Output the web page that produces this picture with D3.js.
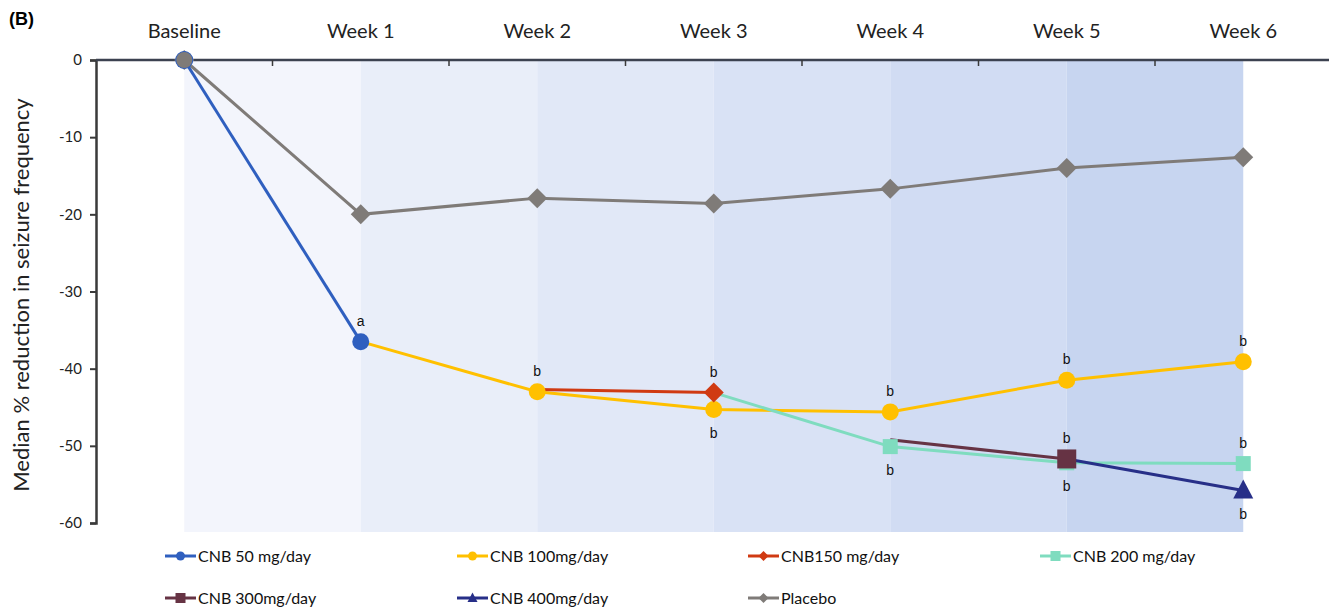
<!DOCTYPE html>
<html>
<head>
<meta charset="utf-8">
<script src="https://cdn.jsdelivr.net/npm/d3@7"></script>
<style>
  body { margin: 0; background: #fff; }
  svg text { font-family: Lato, "Open Sans", sans-serif; }
</style>
</head>
<body>
<div id="chart"></div>
<script>
// data
var weeks = ["Baseline", "Week 1", "Week 2", "Week 3", "Week 4", "Week 5", "Week 6"];
var yTicks = [0, -10, -20, -30, -40, -50, -60];

var placebo = [0, -20.0, -17.9, -18.6, -16.7, -14.0, -12.6];
var cnb50   = [0, -36.5, null, null, null, null, null];
var cnb100  = [null, -36.5, -43.0, -45.3, -45.6, -41.5, -39.1];
var cnb150  = [null, null, -42.7, -43.1, null, null, null];
var cnb200  = [null, null, null, -43.1, -50.1, -52.2, -52.3];
var cnb300  = [null, null, null, null, -49.2, -51.7, null];
var cnb400  = [null, null, null, null, null, -51.7, -55.8];

var seriesNames = ["Placebo", "CNB 50 mg/day", "CNB 100mg/day", "CNB150 mg/day", "CNB 200 mg/day", "CNB 300mg/day", "CNB 400mg/day"];
var seriesColors = ["#7f7b78", "#2f5fbf", "#ffc000", "#d03a12", "#7fdcbf", "#663344", "#272f88"];
var seriesShapes = ["diamond", "circle", "circle", "diamond", "square", "square", "triangle"];
var seriesValues = [placebo, cnb50, cnb100, cnb150, cnb200, cnb300, cnb400];

// significance letters (series index, week index, letter, above the point?)
var sigSeries = [1, 2, 3, 2, 2, 4, 2, 5, 4, 2, 4, 6];
var sigWeek   = [1, 2, 3, 3, 4, 4, 5, 5, 5, 6, 6, 6];
var sigText   = ["a", "b", "b", "b", "b", "b", "b", "b", "b", "b", "b", "b"];
var sigAbove  = [1, 1, 1, 0, 1, 0, 1, 1, 0, 1, 1, 0];

var legendOrder = [1, 2, 3, 4, 5, 6, 0];
var bandColors = ["#f3f5fc", "#e9eef9", "#e1e8f7", "#d9e2f5", "#d1dcf3", "#c7d5f0"];

// layout
var W = 1329, H = 609;
var margin = { left: 96, top: 60 };
var step = 176.5;

var svg = d3.select("#chart").append("svg")
    .attr("width", W)
    .attr("height", H);

var x = d3.scaleBand()
    .domain(weeks)
    .range([margin.left, margin.left + step * weeks.length])
    .padding(0);
var cx = function(i) { return x(weeks[i]) + x.bandwidth() / 2; };

var y = d3.scaleLinear()
    .domain([0, -60])
    .range([margin.top, 523]);

// shaded bands between week centres
weeks.slice(1).forEach(function(w, i) {
    svg.append("rect")
        .attr("x", cx(i))
        .attr("y", y(0))
        .attr("width", cx(i + 1) - cx(i))
        .attr("height", 532 - y(0))
        .attr("fill", bandColors[i]);
});

// y axis
var yAxis = svg.append("g")
    .attr("transform", "translate(" + margin.left + ",0)")
    .call(d3.axisLeft(y).tickValues(yTicks).tickSize(6).tickPadding(8).tickFormat(d3.format("d")));
yAxis.select(".domain").attr("stroke", "#3a3a3a").attr("stroke-width", 2.5);
yAxis.selectAll(".tick line").attr("stroke", "#3a3a3a").attr("stroke-width", 2);
yAxis.selectAll(".tick text")
    .attr("font-size", "15px")
    .attr("fill", "#222")
    .text(function(d) { return d === 0 ? "0" : "-" + Math.abs(d); });

// top axis line
svg.append("line")
    .attr("x1", margin.left).attr("x2", W)
    .attr("y1", y(0)).attr("y2", y(0))
    .attr("stroke", "#3c4250").attr("stroke-width", 2.5);

// tick marks at band boundaries (pointing down)
weeks.slice(1).forEach(function(w) {
    svg.append("line")
        .attr("x1", x(w)).attr("x2", x(w))
        .attr("y1", y(0)).attr("y2", y(0) + 6)
        .attr("stroke", "#3a3a3a").attr("stroke-width", 1.5);
});

// category labels
svg.selectAll(".cat")
    .data(weeks)
    .enter().append("text")
    .attr("class", "cat")
    .attr("x", function(d, i) { return cx(i); })
    .attr("y", 38)
    .attr("text-anchor", "middle")
    .attr("font-size", "20px")
    .attr("fill", "#222")
    .text(function(d) { return d; });

// y title
svg.append("text")
    .attr("transform", "translate(29," + 295 + ") rotate(-90)")
    .attr("text-anchor", "middle")
    .attr("font-size", "22px")
    .attr("fill", "#222")
    .text("Median % reduction in seizure frequency");

// panel label
svg.append("text")
    .attr("x", 9).attr("y", 25)
    .attr("font-size", "18px")
    .attr("font-weight", "bold")
    .style("font-family", "'Liberation Sans', Arial, sans-serif")
    .text("(B)");

// marker
function drawMarker(g, shape, color, px, py, big) {
    if (shape === "circle") {
        g.append("circle").attr("cx", px).attr("cy", py).attr("r", 8.5).attr("fill", color);
    } else if (shape === "diamond") {
        var s = big || 10;
        g.append("path")
            .attr("d", "M" + px + "," + (py - s) + "L" + (px + s) + "," + py + "L" + px + "," + (py + s) + "L" + (px - s) + "," + py + "Z")
            .attr("fill", color);
    } else if (shape === "square") {
        var h = big || 7.5;
        g.append("rect").attr("x", px - h).attr("y", py - h).attr("width", 2 * h).attr("height", 2 * h).attr("fill", color);
    } else if (shape === "triangle") {
        var t = big || 10;
        g.append("path")
            .attr("d", "M" + px + "," + (py - t * 1.1) + "L" + (px + t) + "," + (py + t * 0.8) + "L" + (px - t) + "," + (py + t * 0.8) + "Z")
            .attr("fill", color);
    }
}

var line = d3.line()
    .defined(function(d) { return d != null; })
    .x(function(d, i) { return cx(i); })
    .y(function(d) { return y(d); });

// lines
seriesValues.forEach(function(vals, s) {
    svg.append("path")
        .attr("d", line(vals))
        .attr("fill", "none")
        .attr("stroke", seriesColors[s])
        .attr("stroke-width", 3);
});

// markers (first point of a later-dose series is the hand-over, no marker)
var markers = svg.append("g");
var sizes = [10, null, null, 10, 7.5, 9.5, 10];
seriesValues.forEach(function(vals, s) {
    var first = vals.findIndex(function(v) { return v != null; });
    vals.forEach(function(v, i) {
        if (v == null) return;
        if (i === first && first > 0) return;
        drawMarker(markers, seriesShapes[s], seriesColors[s], cx(i), y(v), sizes[s]);
    });
});
// baseline point: blue behind, grey over
markers.append("circle").attr("cx", cx(0)).attr("cy", y(0)).attr("r", 9).attr("fill", seriesColors[1]);
markers.append("circle").attr("cx", cx(0)).attr("cy", y(0)).attr("r", 8).attr("fill", seriesColors[0]);

// significance letters
sigSeries.forEach(function(s, k) {
    var v = seriesValues[s][sigWeek[k]];
    svg.append("text")
        .attr("x", cx(sigWeek[k]))
        .attr("y", y(v) + (sigAbove[k] ? -16 : 28))
        .attr("text-anchor", "middle")
        .attr("font-size", "14px")
        .attr("fill", "#111")
        .style("font-family", "'Liberation Sans', Arial, sans-serif")
        .text(sigText[k]);
});

// legend
var legX = [165, 457, 748, 1040];
var legY = [556, 598];
legendOrder.forEach(function(s, k) {
    var lx = legX[k % 4], ly = legY[Math.floor(k / 4)];
    var g = svg.append("g");
    g.append("line")
        .attr("x1", lx).attr("x2", lx + 31)
        .attr("y1", ly).attr("y2", ly)
        .attr("stroke", seriesColors[s]).attr("stroke-width", 3);
    drawMarker(g, seriesShapes[s], seriesColors[s], lx + 15.5, ly, seriesShapes[s] === "circle" ? null : 5);
    g.selectAll("circle").attr("r", 4.5);
    g.append("text")
        .attr("x", lx + 33)
        .attr("y", ly + 5.5)
        .attr("font-size", "16px")
        .attr("fill", "#111")
        .text(seriesNames[s]);
});
</script>
</body>
</html>
